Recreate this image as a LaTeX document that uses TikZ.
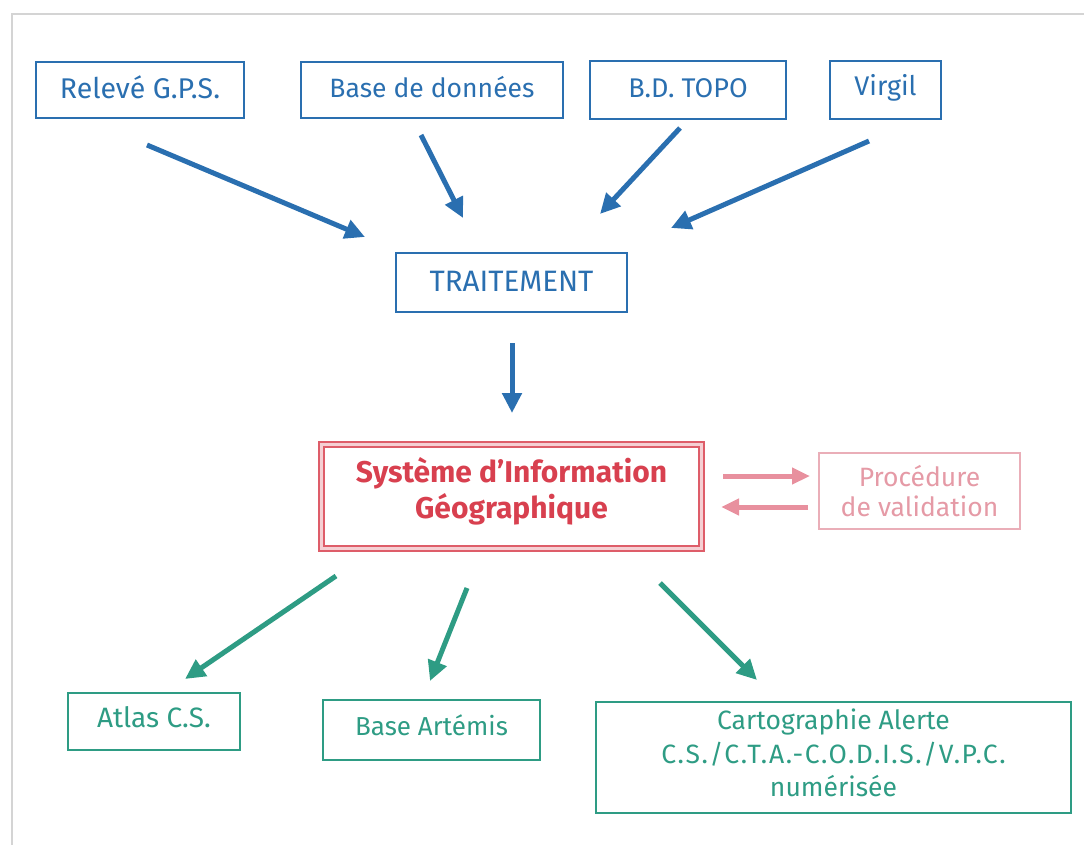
\documentclass[tikz,border=0pt]{standalone}
\usepackage{fontspec}
\setmainfont{Fira Sans}
\usetikzlibrary{arrows.meta}
\definecolor{cblue}{HTML}{2A6FB0}
\definecolor{cred}{HTML}{D8404F}
\definecolor{cpink}{HTML}{E8909E}
\definecolor{cpinktxt}{HTML}{E59AA6}
\definecolor{cgreen}{HTML}{2E9C84}
\definecolor{cframe}{HTML}{D4D4D4}
\newcommand{\rb}[2]{\raisebox{#1}[\height][\depth]{#2}}
\newcommand{\boxlines}[2][0pt]{\raisebox{#1}[\height][\depth]{\begin{tabular}{@{}c@{}}#2\end{tabular}}}
\tikzset{
  bluebox/.style={draw=cblue, line width=2pt, text=cblue, inner sep=0pt, align=center, font=\fontsize{27}{30}\selectfont},
  greenbox/.style={draw=cgreen, line width=2pt, text=cgreen, inner sep=0pt, align=center, font=\fontsize{26.5}{33.5}\selectfont},
  pinkbox/.style={draw=cpinktxt!80, line width=1.5pt, text=cpinktxt, inner sep=0pt, align=center, font=\fontsize{26.5}{30}\selectfont},
  sigbox/.style={draw=cred!85, line width=2pt, double=cred!25, double distance=3pt, text=cred, inner sep=0pt, align=center, font=\bfseries\fontsize{30}{36}\selectfont},
  bluearrow/.style={draw=cblue, line width=5pt, -{Triangle[length=20pt,width=19pt]}},
  greenarrow/.style={draw=cgreen, line width=5pt, -{Triangle[length=20pt,width=19pt]}},
  pinkarrow/.style={draw=cpink, line width=5pt, -{Triangle[length=18pt,width=16pt]}},
}
\begin{document}
\begin{tikzpicture}[x=1pt,y=-1pt]
\useasboundingbox (0,0) rectangle (1084,845);
\draw[cframe, line width=2pt] (12,845) -- (12,14) -- (1084,14);
% top sources
\node[bluebox, minimum width=208pt, minimum height=56pt, font=\fontsize{28.5}{30}\selectfont] (gps) at (140,90) {\rb{3pt}{Relevé G.P.S.}};
\node[bluebox, minimum width=262pt, minimum height=56pt, font=\fontsize{26.5}{30}\selectfont] (bdd) at (432,90) {\rb{3pt}{Base de données}};
\node[bluebox, minimum width=196pt, minimum height=58pt] (topo) at (688,90) {\rb{2pt}{B.D. TOPO}};
\node[bluebox, minimum width=111pt, minimum height=58pt] (virgil) at (885.5,90) {\rb{2pt}{Virgil}};
\node[bluebox, minimum width=231pt, minimum height=59pt, font=\fontsize{29.5}{30}\selectfont] (trait) at (511.5,282.5) {\rb{1pt}{TRAITEMENT}};
\node[sigbox, minimum width=380pt, minimum height=104pt] (sig) at (511.5,496) {\boxlines[3pt]{Système d’Information\\Géographique}};
\node[pinkbox, minimum width=201pt, minimum height=76pt] (valid) at (919.5,491) {\boxlines[-4pt]{Procédure\\de validation}};
\node[greenbox, minimum width=172pt, minimum height=57pt, font=\fontsize{28}{33}\selectfont] (atlas) at (154,721.5) {\rb{4pt}{Atlas C.S.}};
\node[greenbox, minimum width=217pt, minimum height=60pt, font=\fontsize{26}{33}\selectfont] (artemis) at (431.5,730) {\rb{5pt}{Base Artémis}};
\node[greenbox, minimum width=475pt, minimum height=111pt] (carto) at (833.5,757.5) {\boxlines[1pt]{Cartographie Alerte\\{\addfontfeature{LetterSpace=6}C.S./C.T.A.-C.O.D.I.S./V.P.C.}\\numérisée}};
% arrow endpoints
\coordinate (a1s) at (147,145); \coordinate (a1e) at (365,237);
\coordinate (a2s) at (421,135); \coordinate (a2e) at (463,218);
\coordinate (a3s) at (680,128); \coordinate (a3e) at (600,214);
\coordinate (a4s) at (869,141); \coordinate (a4e) at (671,228);
\coordinate (a5s) at (512,343); \coordinate (a5e) at (512,413);
\coordinate (p1s) at (723,476); \coordinate (p1e) at (810,476);
\coordinate (p2s) at (808,507); \coordinate (p2e) at (721,507);
\coordinate (g1s) at (336,576); \coordinate (g1e) at (185,679);
\coordinate (g2s) at (467,588); \coordinate (g2e) at (430,681);
\coordinate (g3s) at (660,583); \coordinate (g3e) at (757,680);
\draw[bluearrow] (a1s) -- (a1e);
\draw[bluearrow] (a2s) -- (a2e);
\draw[bluearrow] (a3s) -- (a3e);
\draw[bluearrow] (a4s) -- (a4e);
\draw[bluearrow] (a5s) -- (a5e);
\draw[pinkarrow] (p1s) -- (p1e);
\draw[pinkarrow] (p2s) -- (p2e);
\draw[greenarrow] (g1s) -- (g1e);
\draw[greenarrow] (g2s) -- (g2e);
\draw[greenarrow] (g3s) -- (g3e);
\end{tikzpicture}
\end{document}
